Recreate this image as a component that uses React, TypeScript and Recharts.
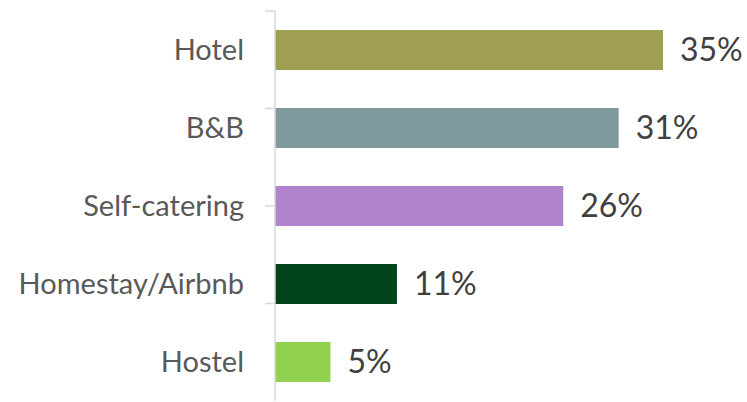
import { Bar, BarChart, Cell, LabelList, XAxis, YAxis } from "recharts";

const categories = ["Hotel", "B&B", "Self-catering", "Homestay/Airbnb", "Hostel"];
const shares = [35, 31, 26, 11, 5];
const barColors = ["#9e9f51", "#7f9a9d", "#b084cc", "#00431a", "#92d050"];
const boundaryTicks = [0, 1, 2, 3, 4, 5];

const data = categories.map((name, i) => ({ name, share: shares[i] }));

const FONT = "Lato, 'Noto Sans', sans-serif";

export default function App() {
  return (
    <div style={{ position: "fixed", left: 0, top: 0, background: "#fff" }}>
      <BarChart
        width={747}
        height={402}
        data={data}
        layout="vertical"
        margin={{ top: 11, right: 84, bottom: 1, left: 0 }}
      >
        <XAxis type="number" domain={[0, 35]} hide />
        {/* hidden-label numeric axis: tick marks between the categories */}
        <YAxis
          yAxisId="bounds"
          type="number"
          domain={[0, 5]}
          ticks={boundaryTicks}
          width={10}
          tickSize={10}
          tickFormatter={() => ""}
          axisLine={{ stroke: "#d9d9d9", strokeWidth: 1.5 }}
          tickLine={{ stroke: "#d9d9d9", strokeWidth: 1.5 }}
        />
        <YAxis
          yAxisId="cat"
          type="category"
          dataKey="name"
          width={265}
          axisLine={false}
          tickLine={false}
          tickSize={0}
          tickMargin={21}
          tick={{ fill: "#595959", fontSize: 29, fontFamily: FONT }}
        />
        <Bar yAxisId="cat" dataKey="share" barSize={40} isAnimationActive={false}>
          {data.map((d, i) => (
            <Cell key={d.name} fill={barColors[i]} />
          ))}
          <LabelList
            dataKey="share"
            position="right"
            offset={17}
            formatter={(v: number) => `${v}%`}
            style={{ fill: "#404040", fontSize: 32, fontFamily: FONT }}
          />
        </Bar>
      </BarChart>
    </div>
  );
}
